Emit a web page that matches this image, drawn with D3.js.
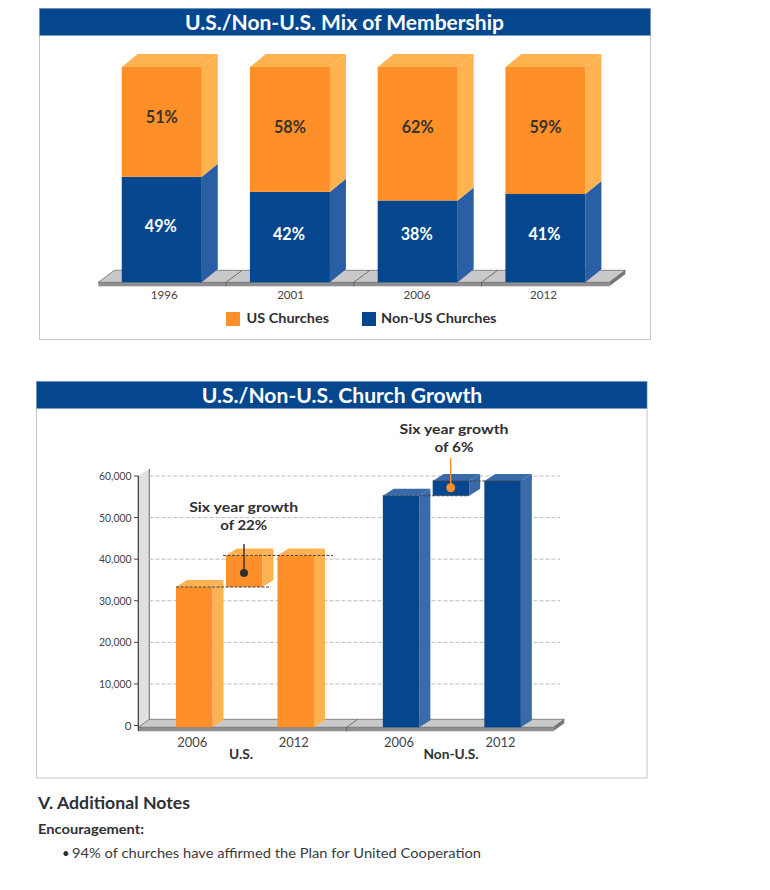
<!DOCTYPE html>
<html><head><meta charset="utf-8">
<script src="https://cdnjs.cloudflare.com/ajax/libs/d3/7.8.5/d3.min.js"></script>
<style>html,body{margin:0;padding:0;background:#fff}svg{display:block}text{font-family:Lato,sans-serif;fill:#2f2f33}</style>
</head><body><svg id="c" width="770" height="890"></svg>
<script>
const mixTitle = "U.S./Non-U.S. Mix of Membership";
const mixYears = ["1996","2001","2006","2012"];
const usShare = [51,58,62,59];
const nonUsShare = [49,42,38,41];
const legendLabels = ["US Churches","Non-US Churches"];
const growthTitle = "U.S./Non-U.S. Church Growth";
const growthYears = ["2006","2012"];
const growthGroups = ["U.S.","Non-U.S."];
const usGrowth = [33300,40900];
const nonUsGrowth = [55250,58800];
const yTicks = [0,10000,20000,30000,40000,50000,60000];
const notes = ["V. Additional Notes","Encouragement:","94% of churches have affirmed the Plan for United Cooperation"];

const BLUE="#04478f",BLUE2="#2a5fa5",BLUE3="#3a6aa9",OR="#ff8f29",OR2="#ffb350",TXT="#2f2f33";
const svg=d3.select("#c");
const poly=(g,pts,fill)=>g.append("polygon").attr("points",pts.map(p=>p.join(",")).join(" ")).attr("fill",fill);
function label(x,y,s,size,opt={}){
  const t=svg.append("text").attr("x",x).attr("y",y).text(s).attr("font-size",size)
   .attr("font-weight",opt.bold?700:400).attr("text-anchor",opt.anchor||"middle");
  if(opt.fill)t.style("fill",opt.fill);
  if(opt.w)t.attr("textLength",opt.w).attr("lengthAdjust","spacingAndGlyphs");
  return t;
}
function panel(x0,x1,y0,y1,title,tx,tw){
  svg.append("rect").attr("x",x0).attr("y",y0).attr("width",x1-x0).attr("height",y1-y0).attr("fill","#fff").attr("stroke","#c6c6c6");
  svg.append("rect").attr("x",x0).attr("y",y0).attr("width",x1-x0).attr("height",27).attr("fill",BLUE).attr("stroke","#7f9dc2").attr("stroke-width",.6);
  label(tx,y0+21.5,title,21,{bold:true,fill:"#fff",anchor:"start",w:tw});
}
function box(g,x0,x1,yTop,yBot,dx,dy,front,side,top,skipTop){
  if(!skipTop)poly(g,[[x0,yTop],[x0+dx,yTop-dy],[x1+dx,yTop-dy],[x1,yTop]],top);
  poly(g,[[x1,yTop],[x1+dx,yTop-dy],[x1+dx,yBot-dy],[x1,yBot]],side);
  g.append("rect").attr("x",x0).attr("y",yTop).attr("width",x1-x0).attr("height",yBot-yTop).attr("fill",front);
}
function floor(g,x0,x1,y,dx,dy,h,divs){
  poly(g,[[x0,y],[x0+dx,y-dy],[x1+dx,y-dy],[x1,y]],"#c9c9cc");
  poly(g,[[x1,y],[x1+dx,y-dy],[x1+dx,y-dy+h],[x1,y+h]],"#77777a");
  g.append("rect").attr("x",x0).attr("y",y).attr("width",x1-x0).attr("height",h).attr("fill","#8f8f92");
  g.append("path").attr("d",`M${x0},${y}L${x1},${y}L${x1+dx},${y-dy}L${x0+dx},${y-dy}Z`).attr("fill","none").attr("stroke","#606063").attr("stroke-width",.7);
  divs.forEach(d=>g.append("path").attr("d",`M${d},${y+h}L${d},${y}L${d+dx},${y-dy}`).attr("fill","none").attr("stroke","#555").attr("stroke-width",.8));
}

/* ---------- chart 1 ---------- */
panel(39.5,650.5,8.5,339.5,mixTitle,185,319);
const g1=svg.append("g");
const x1=d3.scaleBand().domain(mixYears).range([98.3,609.3]).padding(0);
const y1=d3.scaleLinear().domain([0,100]).range([282.3,67]);
const bw1=80,offs1=(x1.bandwidth()-bw1)/2;
floor(g1,98.3,609.3,282.3,16,12,4,mixYears.slice(1).map(d=>x1(d)));
mixYears.forEach((yr,i)=>{
  const a=x1(yr)+offs1-(i==0?.4:0),b=a+bw1;
  const top=y1(usShare[i]+nonUsShare[i]),mid=y1(nonUsShare[i]),bot=y1(0);
  box(g1,a,b,mid,bot,16,13,BLUE,BLUE2,BLUE2,true);
  box(g1,a,b,top,mid,16,13,OR,OR2,OR2);
  const orangeY=i==0?(top+mid)/2+1.5:y1(72)+5.5, blueY=i==0?(mid+bot)/2+2.5:y1(22)+5.5;
  label((a+b)/2,orangeY,usShare[i]+"%",16.5,{bold:true,w:32,fill:"#3a332c"});
  label((a+b)/2-1,blueY,nonUsShare[i]+"%",16.5,{bold:true,w:32,fill:"#fff"});
  label(x1(yr)+x1.bandwidth()/2+2-1.3*i,299,yr,12,{w:27,fill:"#444"});
});
const legX=[226,362],legC=[OR,BLUE],legW=[82.5,115.5];
legendLabels.forEach((s,i)=>{
  svg.append("rect").attr("x",legX[i]).attr("y",312).attr("width",14).attr("height",14).attr("fill",legC[i]);
  label(legX[i]+(i?19:20.5),323,s,13,{bold:true,anchor:"start",w:legW[i]});
});

/* ---------- chart 2 ---------- */
panel(36.5,647,381.5,778,growthTitle,201.7,280.5);
const g2=svg.append("g");
const xGroup=d3.scaleBand().domain(growthGroups).range([138.3,552]);
const xYear=d3.scaleBand().domain(growthYears).range([5.2,208.2]);
const y2=d3.scaleLinear().domain([0,60000]).range([725.5,476]);
const bw2=36.5,dx2=11,dy2=7,base2=727.3;
const barL=(grp,yr)=>xGroup(grp)+xYear(yr)+(xYear.bandwidth()-bw2)/2;
poly(g2,[[138.3,y2(60000)],[149.3,y2(60000)-7],[149.3,720],[138.3,728]],"#e0e0e3");
g2.append("path").attr("d",`M149.3,${y2(60000)-7}V720`).attr("stroke","#6a6a6d").attr("fill","none");
yTicks.forEach(t=>{
  if(t>0)g2.append("line").attr("x1",149.5).attr("x2",560).attr("y1",y2(t)).attr("y2",y2(t)).attr("stroke","#bdbdbf").attr("stroke-dasharray","4 2");
  g2.append("line").attr("x1",134).attr("x2",138.3).attr("y1",y2(t)).attr("y2",y2(t)).attr("stroke","#444");
  label(131.5,y2(t)+4,d3.format(",")(t),11.5,{anchor:"end",fill:"#444",w:t?32.5:undefined});
});
floor(g2,138.3,553.3,base2,dx2,8,4,[346.7]);
g2.append("line").attr("x1",138.3).attr("x2",138.3).attr("y1",y2(60000)).attr("y2",731).attr("stroke","#3a3a3d").attr("stroke-width",1.2);
[usGrowth,nonUsGrowth].forEach((vals,gi)=>{
  growthYears.forEach((yr,i)=>{
    const a=barL(growthGroups[gi],yr),b=a+bw2,us=gi==0;
    box(g2,a,b,y2(vals[i]),base2,dx2,dy2,us?OR:BLUE,us?OR2:BLUE3,us?OR2:BLUE3);
    label(a+bw2/2-2,747,yr,14,{w:30,fill:"#444"});
  });
});
/* floating growth blocks */
const blocks=[
 {vals:usGrowth,x:226,line:TXT,dot:TXT,lead:544,cy:573,r:4,f:OR,s:OR2,dashL:[176,271],dashH:[223,333],tx:243.7,ty:512,txt:"of 22%",tw2:47},
 {vals:nonUsGrowth,x:432.7,line:OR,dot:OR,lead:458,cy:487.7,r:4.5,f:BLUE,s:BLUE3,dashL:[382.7,469],dashH:[432.7,523],tx:454,ty:434,txt:"of 6%",tw2:39}
];
blocks.forEach(o=>{
  const yHi=y2(o.vals[1]),yLo=y2(o.vals[0]);
  box(g2,o.x,o.x+36.5,yHi,yLo,dx2,dy2,o.f,o.s,o.s);
  g2.append("line").attr("x1",o.dashL[0]).attr("x2",o.dashL[1]).attr("y1",yLo).attr("y2",yLo).attr("stroke","#444").attr("stroke-dasharray","3 1.5");
  g2.append("line").attr("x1",o.dashH[0]).attr("x2",o.dashH[1]).attr("y1",yHi).attr("y2",yHi).attr("stroke","#444").attr("stroke-dasharray","3 1.5");
  g2.append("line").attr("x1",o.x+18).attr("x2",o.x+18).attr("y1",o.lead).attr("y2",o.cy).attr("stroke",o.line).attr("stroke-width",1.4);
  g2.append("circle").attr("cx",o.x+18).attr("cy",o.cy).attr("r",o.r).attr("fill",o.dot);
  label(o.tx,o.ty,"Six year growth",14,{bold:true,w:109});
  label(o.tx,o.ty+18,o.txt,14,{bold:true,w:o.tw2});
});
const groupX=[241,451],groupW=[24,55];
growthGroups.forEach((s,i)=>label(groupX[i],759,s,13,{bold:true,w:groupW[i]}));

/* ---------- notes ---------- */
label(38,809,notes[0],17,{bold:true,anchor:"start",w:152});
label(38,834,notes[1],13,{bold:true,anchor:"start",w:106});
label(62,858,"\u2022",13,{anchor:"start"});
label(72,858,notes[2],14,{anchor:"start",w:409,fill:"#3a3a3d"});
</script></body></html>
